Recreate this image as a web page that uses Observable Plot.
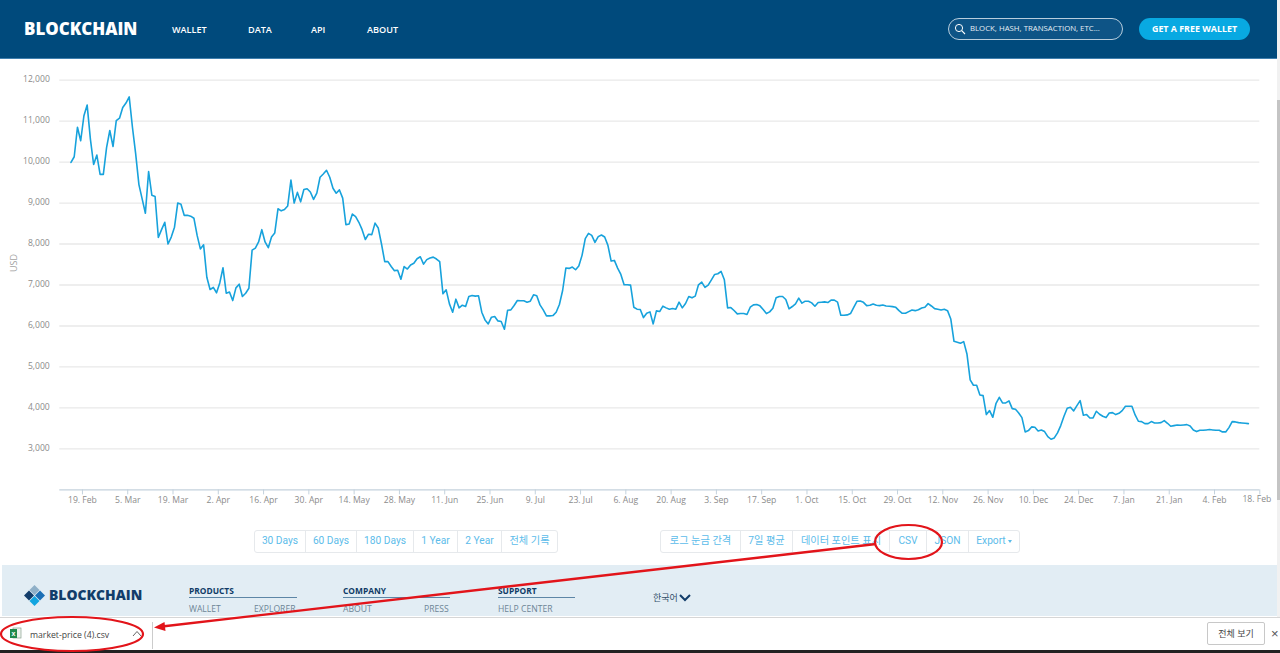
<!DOCTYPE html>
<html lang="ko">
<head>
<meta charset="utf-8">
<title>market-price</title>
<script src="https://cdn.jsdelivr.net/npm/d3@7"></script>
<script src="https://cdn.jsdelivr.net/npm/@observablehq/plot@0.6"></script>
<style>
html,body{margin:0;padding:0;background:#fff;width:1280px;height:653px;overflow:hidden;font-family:"Open Sans","Noto Sans CJK KR",sans-serif}
.abs{position:absolute;white-space:nowrap}
#chart{position:absolute;left:0;top:0}
#chart svg{background:transparent;display:block}
.hdr{position:absolute;left:0;top:0;width:1277px;height:58px;background:#004a7c;box-shadow:0 1px 0 #3f7fae}
.nav{color:#fff;font:600 9.1px "Open Sans",sans-serif;top:22.5px}
.logo{color:#fff;font:800 16.9px/18px "Open Sans",sans-serif;left:24px;top:20px}
.search{left:948px;top:18px;width:173px;height:20px;border:1px solid #b7cddd;border-radius:11px;background:#0e5486}
.searchtxt{left:970px;top:23px;color:#e6eef4;font:500 7.8px "Open Sans",sans-serif}
.cta{left:1139px;top:18px;width:111px;height:22px;border-radius:11px;background:#08a9e2;color:#fff;font:700 8.9px/22px "Open Sans",sans-serif;text-align:center}
.grp{position:absolute;top:530px;height:21px;border:1px solid #e6e9ec;border-radius:3px;display:flex;box-sizing:content-box}
.grp span{display:block;box-sizing:border-box;height:21px;text-align:center;color:#5cbcea;font:10.2px/20px "Roboto","Noto Sans CJK KR",sans-serif;border-left:1px solid #e6e9ec}
.grp span:first-child{border-left:0}
.caret{display:inline-block;width:0;height:0;margin-left:2px;vertical-align:middle;border-left:2.5px solid transparent;border-right:2.5px solid transparent;border-top:3px solid #5cbcea}
.footer{position:absolute;left:2px;top:565px;width:1275px;height:51px;background:#e2edf4}
.fh{color:#0f3b66;font:700 8.4px "Open Sans",sans-serif;top:585px}
.fr{position:absolute;top:597px;height:1px;background:#5d86a6}
.fl{color:#6d8596;font:8.6px "Open Sans",sans-serif;top:603px}
.dl{position:absolute;left:0;top:617px;width:1280px;height:33px;background:#fff;border-top:1px solid #d6d6d6;box-sizing:border-box}
.black{position:absolute;left:0;top:650px;width:1280px;height:3px;background:#222}
.sb{position:absolute;left:1277px;top:0;width:3px;height:617px;background:#f1f1f1}
.sbt{position:absolute;left:1277px;top:100px;width:3px;height:400px;background:#c4c4c4}
</style>
</head>
<body>
<div class="hdr"></div>
<div class="abs logo">BLOCKCHAIN</div>
<div class="abs nav" style="left:172px">WALLET</div>
<div class="abs nav" style="left:248px">DATA</div>
<div class="abs nav" style="left:311px">API</div>
<div class="abs nav" style="left:367px">ABOUT</div>
<div class="abs search"></div>
<svg class="abs" style="left:954px;top:23px" width="12" height="12" viewBox="0 0 12 12"><circle cx="5" cy="5" r="3.6" fill="none" stroke="#fff" stroke-width="1"/><line x1="7.7" y1="7.7" x2="11" y2="11" stroke="#fff" stroke-width="1.1"/></svg>
<div class="abs searchtxt">BLOCK, HASH, TRANSACTION, ETC...</div>
<div class="abs cta">GET A FREE WALLET</div>
<div class="sb"></div><div class="sbt"></div>

<div id="chart"></div>

<div class="grp" id="g1" style="left:254px"></div>
<div class="grp" id="g2" style="left:660px"></div>

<div class="footer"></div>
<svg class="abs" style="left:24px;top:585px" width="21" height="21" viewBox="0 0 21 21">
<polygon points="10.5,0 15.5,5 10.5,10 5.5,5" fill="#8fb0c8"/>
<polygon points="5,5.5 10,10.5 5,15.5 0,10.5" fill="#123d6a"/>
<polygon points="16,5.5 21,10.5 16,15.5 11,10.5" fill="#1b6fb5"/>
<polygon points="10.5,11 15.5,16 10.5,21 5.5,16" fill="#12a5e0"/>
</svg>
<div class="abs" style="left:49px;top:586px;color:#123d6a;font:800 13.9px/18px 'Open Sans',sans-serif">BLOCKCHAIN</div>
<div class="abs fh" style="left:189px">PRODUCTS</div>
<div class="fr" style="left:189px;width:108px"></div>
<div class="abs fl" style="left:189px">WALLET</div>
<div class="abs fl" style="left:254px">EXPLORER</div>
<div class="abs fh" style="left:343px">COMPANY</div>
<div class="fr" style="left:343px;width:107px"></div>
<div class="abs fl" style="left:343px">ABOUT</div>
<div class="abs fl" style="left:424px">PRESS</div>
<div class="abs fh" style="left:498px">SUPPORT</div>
<div class="fr" style="left:498px;width:77px"></div>
<div class="abs fl" style="left:498px">HELP CENTER</div>
<div class="abs" style="left:653px;top:591px;color:#33506a;font:9px 'Noto Sans CJK KR',sans-serif">한국어</div>
<svg class="abs" style="left:679px;top:593px" width="12" height="9" viewBox="0 0 12 9"><path d="M1 2 L6 7 L11 2" fill="none" stroke="#123d6a" stroke-width="2"/></svg>

<div class="dl"></div>
<svg class="abs" style="left:9px;top:627px" width="13" height="13" viewBox="0 0 13 13"><rect x="4" y="1" width="8" height="10" fill="#eef3ee" stroke="#8aa08f" stroke-width=".7"/><rect x="1" y="2" width="7" height="9" fill="#1f8a4c"/><text x="2.4" y="9" font-size="7" fill="#fff" font-family="Liberation Sans" font-weight="700">x</text></svg>
<div class="abs" style="left:30px;top:628.5px;color:#444;font:8.7px 'Open Sans',sans-serif">market-price (4).csv</div>
<svg class="abs" style="left:132px;top:630px" width="10" height="7" viewBox="0 0 10 7"><path d="M1 6 L5 1.5 L9 6" fill="none" stroke="#666" stroke-width="1"/></svg>
<div style="position:absolute;left:152px;top:622px;width:1px;height:27px;background:#ccc"></div>
<div class="abs" style="left:1207px;top:622px;width:56px;height:21px;border:1px solid #c8c8c8;border-radius:2px;color:#444;font:9px/21px 'Noto Sans CJK KR',sans-serif;text-align:center">전체 보기</div>
<div class="abs" style="left:1271px;top:626px;color:#555;font:13px 'Liberation Sans',sans-serif">×</div>
<div class="black"></div>

<svg class="abs" style="left:0;top:0;pointer-events:none" width="1280" height="653" viewBox="0 0 1280 653">
<ellipse cx="908.5" cy="542" rx="33.5" ry="17" fill="none" stroke="#e2141a" stroke-width="2.2"/>
<ellipse cx="72" cy="634" rx="71" ry="17" fill="none" stroke="#e2141a" stroke-width="2.2"/>
<line x1="876" y1="544" x2="162" y2="626.5" stroke="#e2141a" stroke-width="2.4"/>
<polygon points="154,627.5 164.5,622 165.5,631" fill="#e2141a"/>
</svg>

<script>
const firstDay = "2018-02-15T11:00Z";
const prices = [
9990,10130,10850,10520,11130,11390,10560,9940,10170,9700,9700,10350,10770,10380,11010,11070,11330,11440,11590,10850,
10200,9450,9100,8750,9770,9190,9160,8160,8350,8530,8000,8170,8410,9000,8970,8700,8700,8680,8630,8210,
7880,7980,7190,6890,6940,6810,7050,7420,6800,6830,6620,6930,7020,6720,6800,6920,7850,7900,8050,8350,
8050,7910,8170,8270,8860,8810,8840,8930,9560,9000,9260,9030,9330,9350,9270,9090,9240,9630,9710,9800,
9630,9360,9240,9320,9120,8470,8490,8730,8670,8530,8350,8110,8240,8230,8510,8390,8000,7570,7570,7450,
7350,7360,7140,7450,7390,7490,7530,7640,7690,7510,7620,7660,7680,7633,7568,6785,6882,6540,6336,6654,
6442,6507,6475,6720,6744,6728,6736,6336,6148,6050,6214,6230,6124,6108,5920,6385,6393,6500,6622,6614,
6614,6580,6605,6760,6736,6515,6393,6246,6246,6254,6336,6524,6866,7413,7405,7437,7372,7462,7723,8130,
8261,8212,8041,8180,8220,8171,7967,7584,7600,7413,7258,7005,7005,6997,6458,6410,6401,6205,6312,6344,
6050,6369,6352,6483,6442,6410,6426,6410,6581,6442,6548,6720,6687,6728,7005,7070,6940,6997,7127,7258,
7274,7331,7127,6442,6450,6377,6295,6303,6303,6279,6458,6515,6524,6491,6401,6303,6344,6434,6687,6720,
6720,6646,6418,6475,6540,6679,6556,6605,6605,6564,6483,6572,6581,6589,6572,6630,6630,6581,6262,6262,
6270,6303,6455,6602,6610,6577,6496,6504,6537,6504,6496,6512,6488,6480,6472,6455,6374,6309,6309,6350,
6390,6374,6398,6439,6455,6545,6488,6423,6407,6390,6407,6374,6171,5626,5602,5577,5618,5317,4683,4553,
4553,4317,4301,3838,3935,3772,4114,4260,4122,4122,4171,3984,3967,3878,3764,3415,3447,3537,3528,3439,
3463,3423,3301,3236,3268,3390,3569,3797,3992,4016,3927,4057,4179,3821,3838,3756,3756,3919,3846,3797,
3764,3878,3886,3838,3870,3935,4041,4041,4041,3829,3675,3667,3618,3618,3667,3634,3634,3642,3691,3626,
3553,3569,3585,3577,3585,3593,3561,3463,3423,3455,3455,3463,3472,3463,3455,3455,3415,3415,3520,3667,
3659,3642,3634,3626,3618];
const xTickDates = ["2018-02-19","2018-03-05","2018-03-19","2018-04-02","2018-04-16","2018-04-30","2018-05-14","2018-05-28","2018-06-11","2018-06-25","2018-07-09","2018-07-23","2018-08-06","2018-08-20","2018-09-03","2018-09-17","2018-10-01","2018-10-15","2018-10-29","2018-11-12","2018-11-26","2018-12-10","2018-12-24","2019-01-07","2019-01-21","2019-02-04","2019-02-18"];
const yTicks = [3000,4000,5000,6000,7000,8000,9000,10000,11000,12000];
const rangeButtons = [["30 Days",50],["60 Days",51],["180 Days",57],["1 Year",44],["2 Year",44],["전체 기록",56]];
const toolButtons = [["로그 눈금 간격",79],["7일 평균",52],["데이터 포인트 표시",97],["CSV",37],["JSON",42],["Export",51]];

const day0 = new Date(firstDay);
const rows = prices.map((v, i) => ({date: d3.utcDay.offset(day0, i), price: v}));
const ticks = xTickDates.map(d => new Date(d));
const lastTick = ticks[ticks.length - 1];
const fmtX = d3.utcFormat("%-d. %b");
const fmtY = d3.format(",");
const labelFont = {fontSize: 9, fill: "#8b8b8b"};

const chart = Plot.plot({
  width: 1280, height: 530,
  marginLeft: 59.3, marginRight: 20.7, marginTop: 79.6, marginBottom: 40.6,
  style: {fontFamily: '"Open Sans",sans-serif', background: "transparent", overflow: "visible"},
  x: {type: "utc", domain: [new Date("2018-02-12"), lastTick]},
  y: {domain: [2000, 12000]},
  marks: [
    Plot.gridY(yTicks, {stroke: "#e9e9e9", strokeOpacity: 1, strokeWidth: 1.3}),
    Plot.ruleY([2000], {stroke: "#c4d2dd", strokeWidth: 1.2}),
    Plot.axisY(yTicks, {tickSize: 0, tickPadding: 10, label: null, tickFormat: fmtY, color: "#8b8b8b", fontSize: 8.6, dy: -1}),
    Plot.axisX(ticks, {tickSize: 5, stroke: "#c4d2dd", tickPadding: 2, label: null, color: "#8b8b8b", fontSize: 8.6,
      tickFormat: d => +d === +lastTick ? "" : fmtX(d)}),
    Plot.text([lastTick], {x: d => d, y: [2000], text: fmtX, dy: 9.5, dx: -3, lineAnchor: "middle", ...labelFont, fontSize: 8.6}),
    Plot.text(["USD"], {frameAnchor: "left", text: d => d, rotate: -90, dx: -46, dy: -13, ...labelFont, fill: "#a3a3a3"}),
    Plot.line(rows, {x: "date", y: "price", stroke: "#17a2dc", strokeWidth: 1.6, curve: "linear"})
  ]
});
document.getElementById("chart").append(chart);

for (const [id, list] of [["g1", rangeButtons], ["g2", toolButtons]]) {
  const g = document.getElementById(id);
  for (const [label, w] of list) {
    const s = document.createElement("span");
    s.textContent = label;
    s.style.width = w + "px";
    if (label === "Export") {
      const c = document.createElement("i");
      c.className = "caret";
      s.append(c);
    }
    g.append(s);
  }
}
</script>
</body>
</html>
